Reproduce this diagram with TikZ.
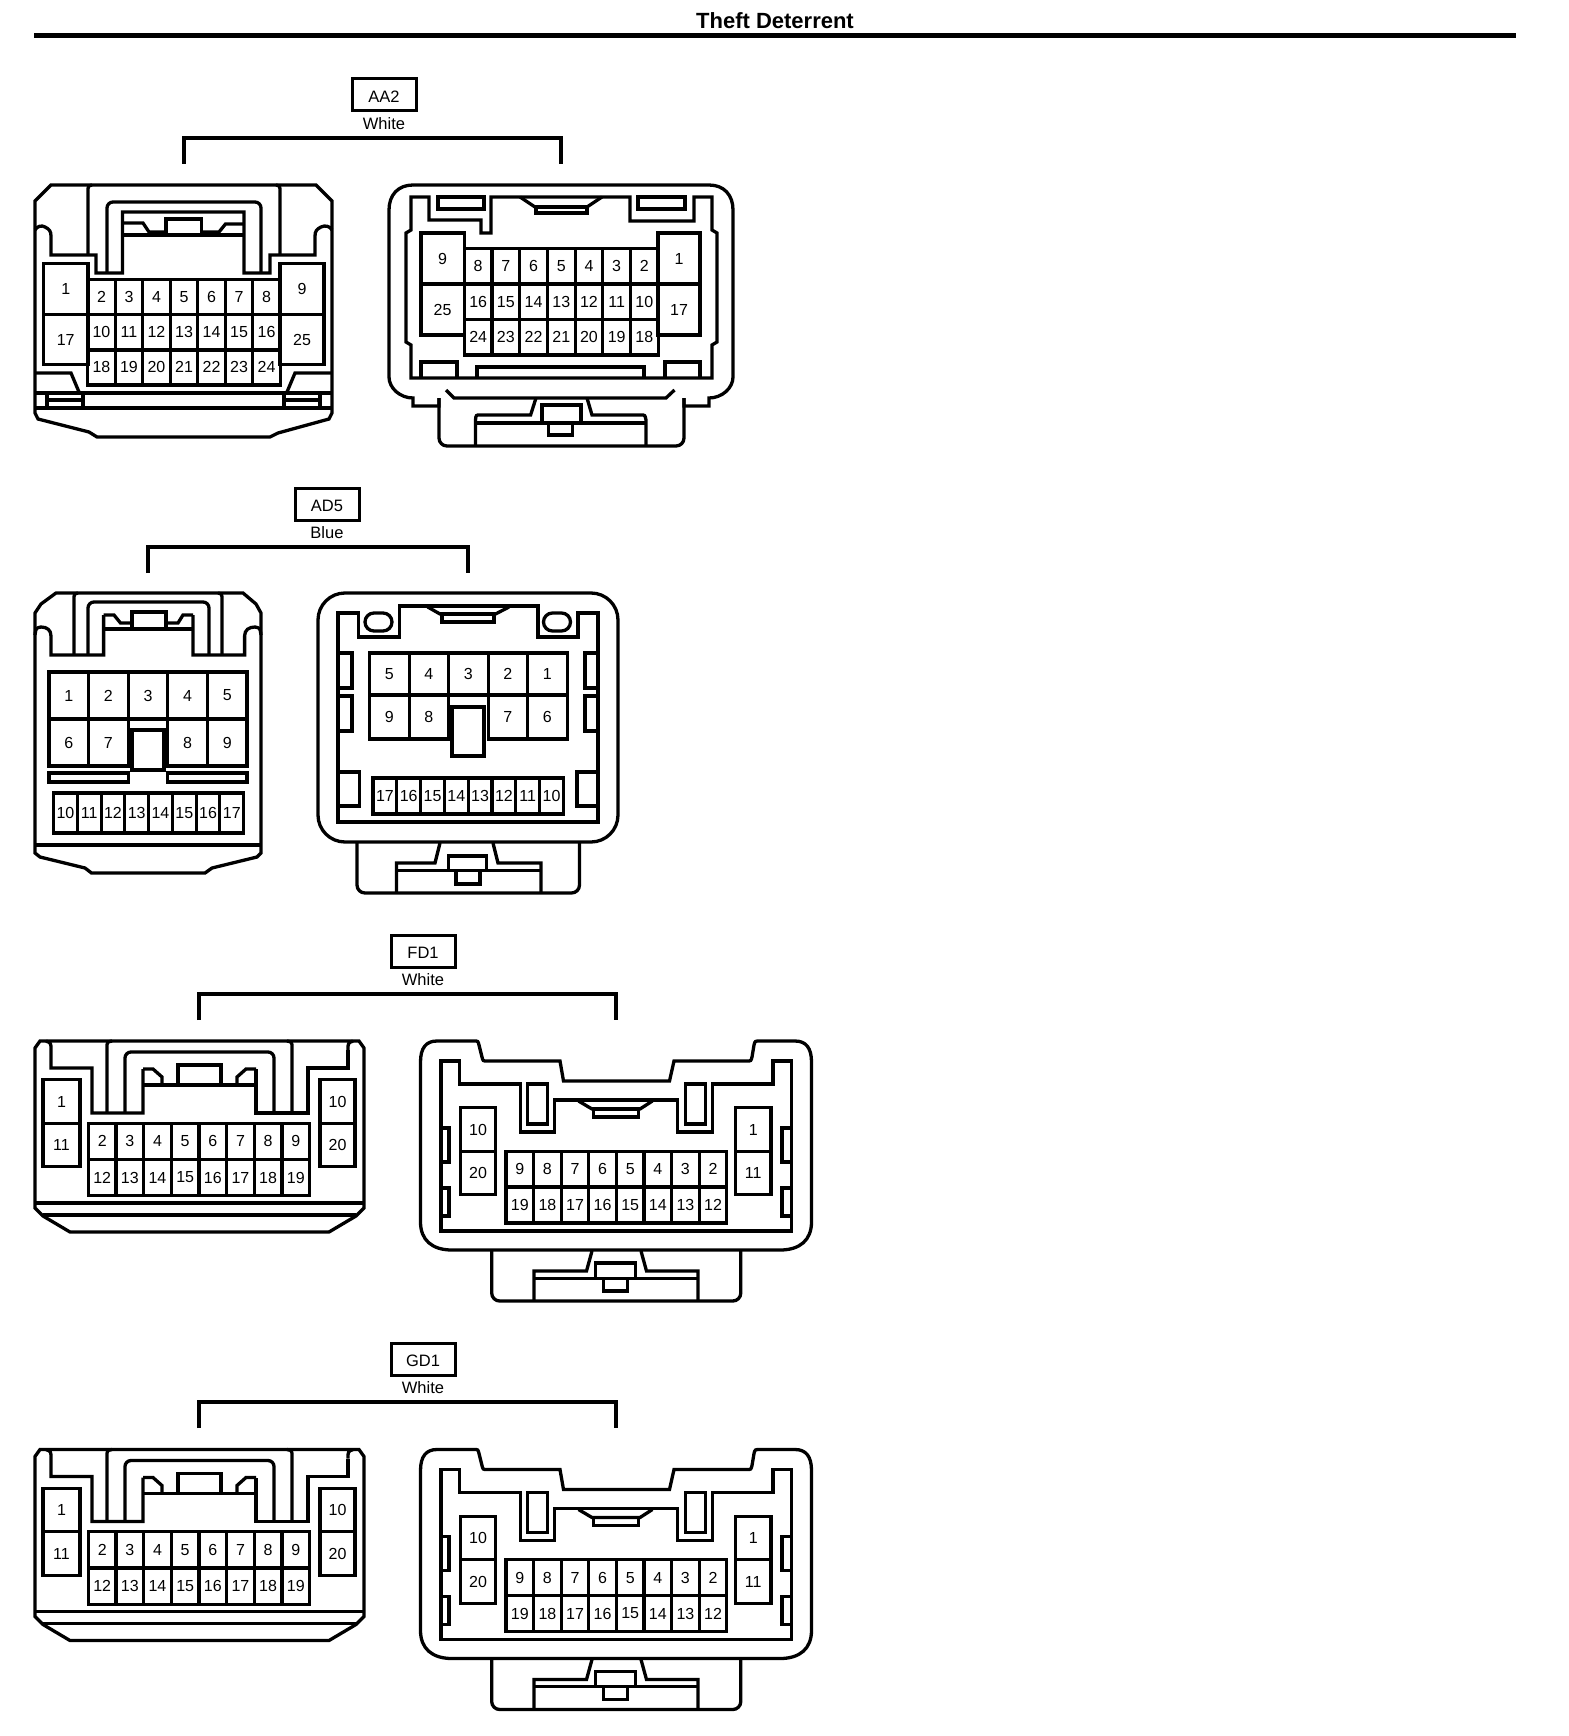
\documentclass[tikz,border=0pt]{standalone}
\usepackage{fontspec}
\setmainfont{Liberation Sans}
\usepackage{tikz}
\usetikzlibrary{calc,positioning}

\tikzset{
  pincell/.style={draw,inner sep=0pt,outer sep=0pt,line width=3.2pt,font=\fontsize{16}{18}\selectfont},
  tagbox/.style={draw,inner sep=0pt,outer sep=0pt,minimum width=64pt,minimum height=32pt,line width=3pt,text height=14.8pt,text depth=0pt,font=\fontsize{16.5}{18}\selectfont},
  tagtext/.style={inner sep=0pt,font=\fontsize{16.5}{18}\selectfont},
  bracket/.style={line width=3.6pt},
  twentypin/.pic={
    % plug
    \draw (40,1041) -- (359,1041) -- (364,1048) -- (364,1208) -- (356,1216) -- (329,1232) -- (70,1232) -- (43,1216) -- (35,1208) -- (35,1048) -- cycle;
    \draw (35,1203) -- (364,1203);
    \draw (43,1215) -- (356,1215);
    \draw (46,1041) .. controls (51,1043) .. (51,1050) -- (51,1068) -- (92,1068) -- (92,1113) -- (143,1113) -- (143,1069);
    \draw (348,1050) .. controls (348,1043) .. (353,1041);
    \draw (348,1050) -- (348,1068) -- (308,1068) -- (308,1113) -- (256,1113) -- (256,1069);
    \draw (143,1085) -- (256,1085);
    \draw (112,1041) .. controls (107,1042) .. (107,1048) -- (107,1113);
    \draw (287,1041) .. controls (292,1042) .. (292,1048) -- (292,1113);
    \draw[rounded corners=6pt] (125,1113) -- (125,1052) -- (274,1052) -- (274,1113);
    \draw (143,1069) -- (153,1069) -- (162,1077) -- (162,1085);
    \draw (256,1069) -- (246,1069) -- (237,1077) -- (237,1085);
    \draw (178,1085) -- (178,1065) -- (221,1065) -- (221,1085);
    \pinrow{l}{102.2}{1141.3}{27.65}{36.2}{2,...,9}
    \pinrow{l}{102.2}{1177.5}{27.65}{36.2}{12,...,19}
    \node[pincell,minimum width=37pt,minimum height=43.5pt] (l-1) at (61.5,1101.5) {1};
    \node[pincell,minimum width=37pt,minimum height=43.5pt] (l-11) at (61.5,1145) {11};
    \node[pincell,minimum width=35pt,minimum height=43.5pt] (l-10) at (337.5,1101.5) {10};
    \node[pincell,minimum width=35pt,minimum height=43.5pt] (l-20) at (337.5,1145) {20};
    % socket
    \draw (420.5,1062) .. controls (420.5,1048) and (426,1041) .. (437,1041) -- (474,1041) .. controls (478,1041) .. (479,1045) -- (482,1057) .. controls (483,1061) .. (487,1061) -- (560,1061) -- (563.5,1081) -- (669.5,1081) -- (674,1061) -- (747,1061) .. controls (751,1061) .. (752,1057) -- (754,1045) .. controls (755,1041) .. (760,1041) -- (795,1041) .. controls (806,1041) and (811.5,1048) .. (811.5,1062) -- (811.5,1222) .. controls (811.5,1240) and (800,1250) .. (780,1250) -- (452,1250) .. controls (432,1250) and (420.5,1240) .. (420.5,1222) -- cycle;
    \draw (441,1061) -- (459.6,1061) -- (459.6,1084) -- (520.6,1084) -- (520.6,1132) -- (554.4,1132) -- (554.4,1100) -- (677.6,1100) -- (677.6,1132) -- (712.4,1132) -- (712.4,1084) -- (773,1084) -- (773,1061) -- (791.6,1061) -- (791.6,1231) -- (441,1231) -- cycle;
    \draw (527.6,1084) rectangle (547.4,1124);
    \draw (685.6,1084) rectangle (705.4,1124);
    \draw (578.5,1101) -- (592,1109) -- (640,1109) -- (652.4,1101);
    \draw (593.5,1109) rectangle (638.5,1117);
    \draw (441,1128) -- (449,1128) -- (449,1162) -- (441,1162);
    \draw (441,1188) -- (449,1188) -- (449,1216) -- (441,1216);
    \draw (791.6,1128) -- (782,1128) -- (782,1162) -- (791.6,1162);
    \draw (791.6,1188) -- (782,1188) -- (782,1216) -- (791.6,1216);
    \pinrow{r}{519.8}{1169.2}{27.6}{36}{9,8,7,6,5,4,3,2}
    \pinrow{r}{519.8}{1205}{27.6}{36}{19,18,17,16,15,14,13,12}
    \node[pincell,minimum width=35pt,minimum height=43.5pt] (r-10) at (478,1129.5) {10};
    \node[pincell,minimum width=35pt,minimum height=43.5pt] (r-20) at (478,1173) {20};
    \node[pincell,minimum width=35.6pt,minimum height=43.5pt] (r-1) at (753.2,1129.5) {1};
    \node[pincell,minimum width=35.6pt,minimum height=43.5pt] (r-11) at (753.2,1173) {11};
    % lock
    \draw[rounded corners=8pt] (491.7,1250) -- (491.7,1301) -- (740.8,1301) -- (740.8,1250);
    \draw (592,1251) -- (586.5,1271) -- (534,1271) -- (534,1301);
    \draw (641,1251) -- (646.5,1271) -- (698,1271) -- (698,1301);
    \draw (534,1278.3) -- (698,1278.3);
    \draw (595.6,1278.3) -- (595.6,1263) -- (635.8,1263) -- (635.8,1278.3);
    \draw (603.6,1278.3) rectangle (627.8,1291);
  }
}

\newcommand{\pinrow}[6]{%
  \foreach \lab [count=\i from 0] in {#6} {
    \node[pincell,minimum width=#4pt,minimum height=#5pt] (#1-\lab) at ({#2+\i*#4},#3) {\lab};
  }
}

\newcommand{\conntag}[7]{%
  \node[tagbox] (#1-tag) at (#4,#5+16) {#2};
  \node[tagtext] (#1-col) at (#4,#5+45) {#3};
  \coordinate (#1-a) at (#6,#5+85);
  \coordinate (#1-t) at (#4,#5+59);
  \coordinate (#1-b) at (#7,#5+85);
  \draw[bracket] (#1-a) |- (#1-t) -| (#1-b);
}

\begin{document}
\begin{tikzpicture}[x=1pt,y=-1pt,line width=3.3pt]
\path[fill=white,use as bounding box] (0,0) rectangle (1568,1736);

\node[inner sep=0pt,font=\fontsize{22}{24}\selectfont\bfseries] (title) at (775,21) {Theft Deterrent};
\coordinate (ruleA) at (34,35.5);
\coordinate (ruleB) at (1516,35.5);
\draw[line width=5pt] (ruleA) -- (ruleB);

% AA2
\conntag{aa}{AA2}{White}{384}{79}{184}{561}

\draw (51,185) -- (316,185) -- (332,201) -- (332,413) -- (329,419) -- (278,433) -- (270,437) -- (97,437) -- (89,432) -- (38,419) -- (35,413) -- (35,201) -- cycle;
\draw (35,230) .. controls (37,226) and (42,225) .. (45,227) .. controls (49,229) and (51,231) .. (51,236) -- (51,255) -- (96,255) -- (96,273) -- (122.5,273) -- (122.5,212) -- (244,212) -- (244,273) -- (270,273) -- (270,255) -- (315,255) -- (315,236) .. controls (315,231) and (317,229) .. (321,227) .. controls (325,225) and (330,226) .. (332,230);
\draw (92,185) .. controls (88,186) .. (88,192) -- (88,255);
\draw (276,185) .. controls (280,186) .. (280,192) -- (280,255);
\draw[rounded corners=6pt] (107,273) -- (107,202) -- (261,202) -- (261,273);
\draw (122.5,235) -- (244,235);
\draw (122.5,223) -- (143,223) -- (149,232) -- (166,232);
\draw (244,224) -- (225.5,224) -- (219,232) -- (201.5,232);
\draw (166,235) -- (166,219) -- (201.5,219) -- (201.5,235);
\draw (35,373) -- (71,373) -- (79,392);
\draw (332,373) -- (295,373) -- (287,392);
\draw (35,393) -- (332,393);
\draw (35,408) -- (332,408);
\draw (47,393) -- (47,408);
\draw (47,400) -- (83,400);
\draw (83,393) -- (83,408);
\draw (320,393) -- (320,408);
\draw (284,400) -- (320,400);
\draw (284,393) -- (284,408);

\pinrow{aal}{101.5}{296.75}{27.5}{35.3}{2,...,8}
\pinrow{aal}{101.5}{332.25}{27.5}{35.3}{10,...,16}
\pinrow{aal}{101.5}{367.25}{27.5}{35.3}{18,...,24}
\node[pincell,minimum width=44.6pt,minimum height=50.75pt] (aal-1) at (65.7,288.75) {1};
\node[pincell,minimum width=44.6pt,minimum height=50.75pt] (aal-17) at (65.7,339.5) {17};
\node[pincell,minimum width=44pt,minimum height=50.75pt] (aal-9) at (302,288.75) {9};
\node[pincell,minimum width=44pt,minimum height=50.75pt] (aal-25) at (302,339.5) {25};

\draw (413,185) -- (709,185) .. controls (724,185) and (733,195) .. (733,210) -- (733,377) .. controls (733,388) and (722,398) .. (709,398) -- (709,406) -- (684,406) -- (684,398);
\draw (413,185) .. controls (398,185) and (389,195) .. (389,210) -- (389,377) .. controls (389,388) and (400,398) .. (413,398) -- (413,406) -- (439,406) -- (439,398);
\draw[rounded corners=8pt] (439,398) -- (439,446) -- (684,446) -- (684,398);
\draw (411,197) -- (429,197) -- (429,220) -- (481,220) -- (481,233) -- (491,233) -- (491,197) -- (630,197) -- (630,221) -- (694,221) -- (694,197) -- (712,197) -- (712,230) -- (717,233) -- (717,342) -- (712,345) -- (712,378) -- (411,378) -- (411,345) -- (406,342) -- (406,233) -- (411,230) -- cycle;
\draw (438,197) rectangle (484,209);
\draw (638,197) rectangle (685,209);
\draw (520,197) -- (535,207) -- (587,207) -- (602,197);
\draw (536,207) rectangle (587,213);
\draw (421,378) -- (421,362) -- (457,362) -- (457,378);
\draw (477,378) -- (477,367) -- (644,367) -- (644,378);
\draw (665,378) -- (665,362) -- (700,362) -- (700,378);
\draw (446,390) -- (454,398) -- (666,398) -- (674.5,390);
\draw (536,398) -- (530.6,415) -- (480,415) .. controls (476,415) .. (475.5,420) -- (475.5,445);
\draw (587,398) -- (592,415) -- (641,415) .. controls (645,415) .. (646,420) -- (646,445);
\draw (475.5,423) -- (646,423);
\draw (542,423) -- (542,405) -- (581,405) -- (581,423);
\draw (548.5,423) rectangle (572.5,435);

\pinrow{aar}{478.15}{266.15}{27.7}{35.5}{8,7,6,5,4,3,2}
\pinrow{aar}{478.15}{301.65}{27.7}{35.5}{16,15,14,13,12,11,10}
\pinrow{aar}{478.15}{337.15}{27.7}{35.5}{24,23,22,21,20,19,18}
\node[pincell,minimum width=43.3pt,minimum height=51pt] (aar-9) at (442.6,258.5) {9};
\node[pincell,minimum width=43.3pt,minimum height=51pt] (aar-25) at (442.6,309.5) {25};
\node[pincell,minimum width=42pt,minimum height=51pt] (aar-1) at (679,258.5) {1};
\node[pincell,minimum width=42pt,minimum height=51pt] (aar-17) at (679,309.5) {17};

% AD5
\conntag{ad}{AD5}{Blue}{327}{488}{148}{468}

\draw (56,593) -- (243,593) -- (256,604) -- (261,613) -- (261,853) -- (257,857) -- (212,868) -- (205,873) -- (91.5,873) -- (85,868) -- (40,857) -- (35,853) -- (35,613) -- (41,604) -- cycle;
\draw (35,845) -- (261,845);
\draw (35,635) .. controls (36,628) .. (41,627) .. controls (47,627) and (51,630) .. (51,636) -- (51,655) -- (103.6,655) -- (103.6,615);
\draw (193,615) -- (193,655) -- (244.6,655) -- (244.6,636) .. controls (244.6,630) and (249,627) .. (255,627) .. controls (260,628) .. (261,635);
\draw (103.6,629) -- (193,629);
\draw (78,593) .. controls (74,594) .. (74,600) -- (74,655);
\draw (218,593) .. controls (222,594) .. (222,600) -- (222,655);
\draw[rounded corners=6pt] (88,655) -- (88,602) -- (209,602) -- (209,655);
\draw (103.6,615) -- (114,615) -- (120.5,623) -- (132,623);
\draw (193,615) -- (183,615) -- (178,623) -- (166,623);
\draw (132,629) -- (132,612) -- (166,612) -- (166,629);

\pinrow{adl}{68.8}{695.5}{39.6}{47}{1,...,5}
\pinrow{adl}{68.8}{742.5}{39.6}{47}{6,7}
\pinrow{adl}{187.6}{742.5}{39.6}{47}{8,9}
\draw (132,730) rectangle (164,770);
\draw (49,773) rectangle (128.6,782);
\draw (167.4,773) rectangle (247,782);
\pinrow{adl}{65.5}{813}{23.75}{40}{10,...,17}

\draw[rounded corners=27pt] (318,593) rectangle (618,842);
\draw (338,613) -- (358.5,613) -- (358.5,637) -- (399.5,637) -- (399.5,606) -- (538,606) -- (538,637) -- (578,637) -- (578,613) -- (598,613) -- (598,822) -- (338,822) -- cycle;
\draw[rounded corners=9pt] (365,613) rectangle (392,631);
\draw[rounded corners=9pt] (543.5,613) rectangle (570.5,631);
\draw (427.7,607) -- (440,614) -- (495.5,614) -- (509,607);
\draw (442,614) rectangle (494,622);
\draw (338,653) -- (352,653) -- (352,688) -- (338,688);
\draw (338,696) -- (352,696) -- (352,731) -- (338,731);
\draw (598,653) -- (585,653) -- (585,688) -- (598,688);
\draw (598,696) -- (585,696) -- (585,731) -- (598,731);
\draw (338,772) -- (359.4,772) -- (359.4,806) -- (338,806);
\draw (598,772) -- (577,772) -- (577,806) -- (598,806);

\pinrow{adr}{389.35}{674}{39.5}{42}{5,4,3,2,1}
\pinrow{adr}{389.35}{717}{39.5}{44}{9,8}
\pinrow{adr}{507.85}{717}{39.5}{44}{7,6}
\draw (452,707) rectangle (484,756);
\pinrow{adr}{384.9}{796}{23.8}{36}{17,16,15,14,13,12,11,10}

\draw[rounded corners=8pt] (357,842) -- (357,893) -- (579.5,893) -- (579.5,842);
\draw (440,843) -- (435,863) -- (396.4,863) -- (396.4,893);
\draw (493,843) -- (498,863) -- (541,863) -- (541,893);
\draw (396.4,870.7) -- (541,870.7);
\draw (448.7,870.7) -- (448.7,856) -- (486.6,856) -- (486.6,870.7);
\draw (456,870.7) rectangle (480,884);

% FD1
\conntag{fd}{FD1}{White}{423}{935}{199}{616}
\pic (fd) at (0,0) {twentypin};

% GD1
\conntag{gd}{GD1}{White}{423}{1343}{199}{616}
\pic (gd) at (0,408.5) {twentypin};

\end{tikzpicture}
\end{document}
